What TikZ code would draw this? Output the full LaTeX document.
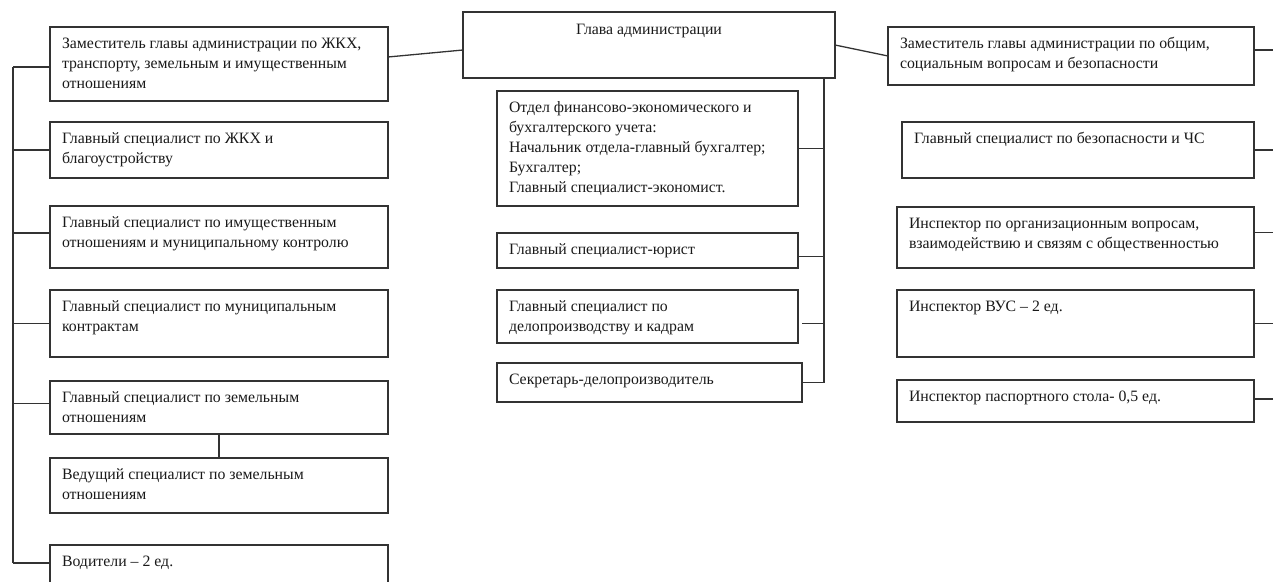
\documentclass[tikz,border=0pt]{standalone}
\usepackage{fontspec}
\setmainfont{Liberation Serif}
\tikzset{
  bx/.style={draw=black!80, line width=1.3pt, anchor=north west, inner xsep=12pt, inner ysep=0pt, outer sep=0pt, text=black!90, font=\fontsize{15.8}{20}\selectfont},
  ln/.style={draw=black!80, line width=1.3pt}
}
\newcommand\Bx[6]{\node[bx] (#1) at (#2,#3) {\parbox[t][#5pt][t]{\dimexpr#4pt-24pt\relax}{\raggedright\rule{0pt}{21.5pt}#6}};}
\begin{document}
\begin{tikzpicture}[x=1pt,y=-1pt]
\useasboundingbox (0,0) rectangle (1273,581);
\clip (0,0) rectangle (1273,581);
% left column
\Bx{L1}{50}{27}{338}{74}{Заместитель главы администрации по ЖКХ,\\ транспорту, земельным и имущественным\\ отношениям}
\Bx{L2}{50}{122}{338}{56}{Главный специалист по ЖКХ и\\ благоустройству}
\Bx{L3}{50}{206}{338}{62}{Главный специалист по имущественным\\ отношениям и муниципальному контролю}
\Bx{L4}{50}{290}{338}{67}{Главный специалист по муниципальным\\ контрактам}
\Bx{L5}{50}{381}{338}{53}{Главный специалист по земельным\\ отношениям}
\Bx{L6}{50}{458}{338}{55}{Ведущий специалист по земельным\\ отношениям}
\Bx{L7}{50}{545}{338}{60}{Водители – 2 ед.}
% head
\node[bx] (G) at (463,12) {\parbox[t][66pt][t]{\dimexpr372pt-24pt\relax}{\centering\rule{0pt}{22pt}Глава администрации}};
% center column
\Bx{C1}{497}{91}{301}{115}{Отдел финансово-экономического и\\ бухгалтерского учета:\\ Начальник отдела-главный бухгалтер;\\ Бухгалтер;\\ Главный специалист-экономист.}
\Bx{C2}{497}{233}{301}{35}{Главный специалист-юрист}
\Bx{C3}{497}{290}{301}{53}{Главный специалист по\\ делопроизводству и кадрам}
\Bx{C4}{497}{363}{305}{39}{Секретарь-делопроизводитель}
% right column
\Bx{R1}{888}{27}{366}{58}{Заместитель главы администрации по общим,\\ социальным вопросам и безопасности}
\Bx{R2}{902}{122}{352}{56}{Главный специалист по безопасности и ЧС}
\Bx{R3}{897}{207}{357}{61}{Инспектор по организационным вопросам,\\ взаимодействию и связям с общественностью}
\Bx{R4}{897}{290}{357}{67}{Инспектор ВУС – 2 ед.}
\Bx{R5}{897}{380}{357}{42}{Инспектор паспортного стола- 0,5 ед.}
% bus coordinates
\coordinate (lbus) at (13,0);
\coordinate (cbus) at (824,0);
\coordinate (redge) at (1273,0);
% stub points
\coordinate (L1s) at ([yshift=-3pt]L1.west);
\coordinate (L2s) at (L2.west);
\coordinate (L3s) at ([yshift=4pt]L3.west);
\coordinate (L4s) at (L4.west);
\coordinate (L5s) at ([yshift=4pt]L5.west);
\coordinate (L7s) at ([yshift=-18pt]L7.north west);
\coordinate (C1s) at (C1.east);
\coordinate (C2s) at ([yshift=-6pt]C2.east);
\coordinate (C3s) at ([xshift=4pt,yshift=-7pt]C3.east);
\coordinate (C4s) at (C4.east);
\coordinate (R1s) at ([yshift=6pt]R1.east);
\coordinate (R2s) at (R2.east);
\coordinate (R3s) at ([yshift=5pt]R3.east);
\coordinate (R4s) at (R4.east);
\coordinate (R5s) at ([yshift=2pt]R5.east);
% connectors
\draw[ln] ([yshift=7pt]L1.east) -- ([yshift=-5pt]G.west);
\draw[ln] (G.east) -- (R1.west);
\draw[ln] (lbus |- L1s) -- (lbus |- L7s);
\foreach \s in {L1s,L2s,L3s,L4s,L5s,L7s} \draw[ln] (\s) -- (lbus |- \s);
\draw[ln] (L5) -- (L6);
\draw[ln] (G.south -| cbus) -- (cbus |- C4s);
\foreach \s in {C1s,C2s,C3s,C4s} \draw[ln] (\s) -- (cbus |- \s);
\foreach \s in {R1s,R2s,R3s,R4s,R5s} \draw[ln] (\s) -- (redge |- \s);
\end{tikzpicture}
\end{document}
